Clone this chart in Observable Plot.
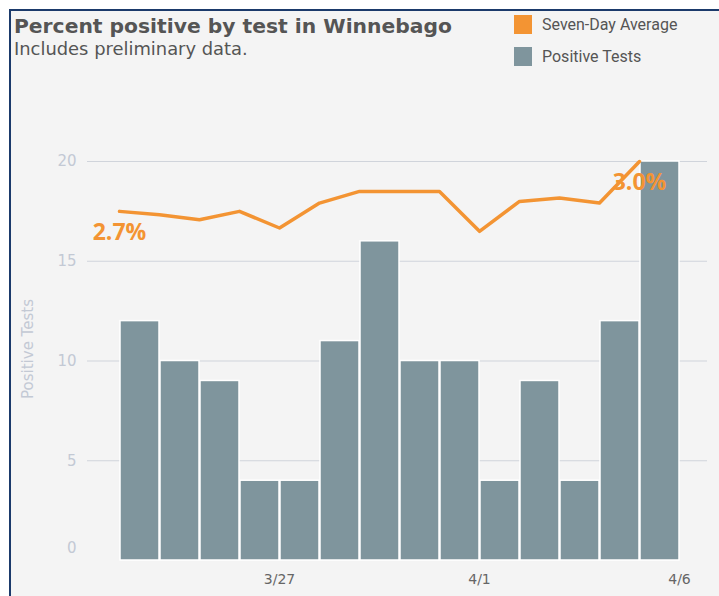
<!DOCTYPE html>
<html><head><meta charset="utf-8">
<script src="https://cdn.jsdelivr.net/npm/d3@7"></script>
<script src="https://cdn.jsdelivr.net/npm/@observablehq/plot@0.6"></script>
<style>
body{margin:0;background:#fff;font-family:"DejaVu Sans",sans-serif;}
#frame{position:relative;margin:9px 0 0 9px;border-top:2px solid #1b3a6b;border-left:2px solid #1b3a6b;background:#f4f4f4;width:708px;height:585px;overflow:hidden;}
#header{position:relative;height:69px;}
#title{position:absolute;left:3px;top:5px;font-weight:bold;font-size:20.3px;line-height:1;color:#555;white-space:nowrap;}
#subtitle{position:absolute;left:3px;top:29px;font-size:17.9px;line-height:1;color:#555;white-space:nowrap;}
.lg{position:absolute;left:503px;display:flex;align-items:center;height:19px;font-family:Roboto,sans-serif;font-size:16px;color:#555;white-space:nowrap;}
.sw{width:18px;height:19px;margin-right:10px;}
#chart svg{display:block;}
</style></head>
<body>
<div id="frame">
  <div id="header">
    <div id="title">Percent positive by test in Winnebago</div>
    <div id="subtitle">Includes preliminary data.</div>
    <div class="lg" style="top:4px"><div class="sw" style="background:#f39433"></div><span>Seven-Day Average</span></div>
    <div class="lg" style="top:36px"><div class="sw" style="background:#7f959d"></div><span>Positive Tests</span></div>
  </div>
  <div id="chart"></div>
</div>
<script>
const dates = ["2020-03-23","2020-03-24","2020-03-25","2020-03-26","2020-03-27","2020-03-28","2020-03-29",
               "2020-03-30","2020-03-31","2020-04-01","2020-04-02","2020-04-03","2020-04-04","2020-04-05"];
const positiveTests = [12, 10, 9, 4, 4, 11, 16, 10, 10, 4, 9, 4, 12, 20];
const sevenDayAvgPct = [2.70, 2.68, 2.65, 2.70, 2.60, 2.75, 2.82, 2.82, 2.82, 2.58, 2.76, 2.78, 2.75, 3.00];
const xTickDates = ["2020-03-27", "2020-04-01", "2020-04-06"];
const yTicks = [5, 10, 15, 20];
const yZeroTick = [0];

const orange = "#f39433";
const barColor = "#7f959d";

// hidden secondary (percent) axis mapped onto the count axis
const pctToCount = d3.scaleLinear().domain([2.7, 3.0]).range([17.5, 20]);

const parse = d3.utcParse("%Y-%m-%d");
const rows = dates.map((d, i) => ({date: parse(d), count: positiveTests[i], pct: sevenDayAvgPct[i]}));
const labelRows = [rows[0], rows[rows.length - 1]];
const dayMs = 864e5;
const xDomain = [new Date(+parse(dates[0]) - 0.8 * dayMs), new Date(+parse(xTickDates[2]) + 0.7 * dayMs)];

const chart = Plot.plot({
  width: 708,
  height: 516,
  marginTop: 81,
  marginBottom: 36,
  marginLeft: 76,
  marginRight: 12,
  style: {background: "transparent", fontFamily: "'DejaVu Sans', sans-serif", overflow: "visible"},
  x: {type: "utc", domain: xDomain},
  y: {domain: [0, 20]},
  marks: [
    Plot.gridY(yTicks, {stroke: "#d0d4db", strokeOpacity: 1}),
    Plot.rectY(rows, {x: "date", interval: "day", y: "count", fill: barColor, stroke: "#ffffff", strokeWidth: 1.5}),
    Plot.line(rows, {x: "date", y: d => pctToCount(d.pct), stroke: orange, strokeWidth: 3.5, strokeLinejoin: "round", strokeLinecap: "round"}),
    Plot.text(labelRows, {x: "date", y: d => pctToCount(d.pct), text: d => d.pct.toFixed(1) + "%", dy: 21,
      fill: orange, fontWeight: "bold", fontSize: 23, fontFamily: "'Open Sans', sans-serif"}),
    Plot.axisY(yTicks, {tickSize: 0, tickPadding: 11, fontSize: 15, fill: "#c3c9d4", label: null}),
    Plot.axisY(yZeroTick, {tickSize: 0, tickPadding: 11, fontSize: 15, fill: "#c3c9d4", label: null, dy: -12}),
    Plot.axisX(xTickDates.map(parse), {tickSize: 0, tickPadding: 14, fontSize: 14, fill: "#666", tickFormat: d3.utcFormat("%-m/%-d"), label: null}),
    Plot.text(["Positive Tests"], {frameAnchor: "left", textAnchor: "middle", rotate: -90, dx: -59, dy: -12, fill: "#c3c9d4", fontSize: 15})
  ]
});
document.getElementById("chart").appendChild(chart);
</script>
</body></html>
